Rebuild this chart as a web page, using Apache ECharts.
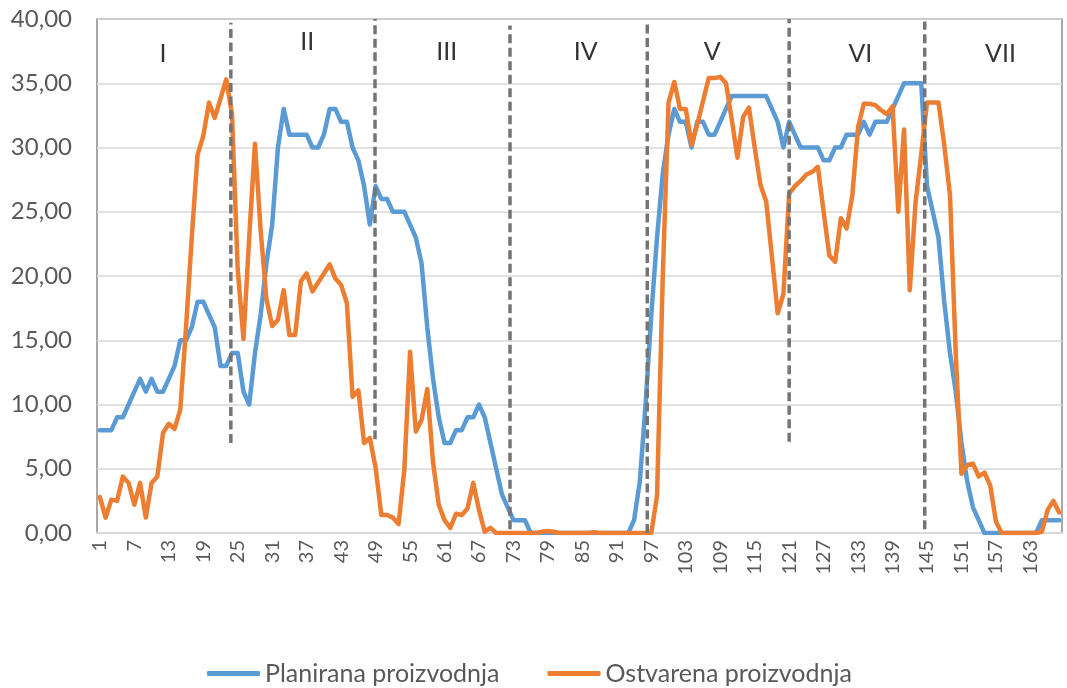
<!DOCTYPE html>
<html>
<head>
<meta charset="utf-8">
<script src="https://cdn.jsdelivr.net/npm/echarts@6/dist/echarts.min.js"></script>
<style>
  html, body { margin: 0; padding: 0; background: #ffffff; }
  #chart { width: 1067px; height: 688px; }
</style>
</head>
<body>
<div id="chart"></div>
<script>
// Hours of the week, 1..168
const hours = Array.from({ length: 168 }, (_, i) => String(i + 1));

// Planned production per hour
const planirana = [
  8, 8, 8, 9, 9, 10, 11, 12, 11, 12,
  11, 11, 12, 13, 15, 15, 16, 18, 18, 17,
  16, 13, 13, 14, 14, 11, 10, 14, 17, 21,
  24, 30, 33, 31, 31, 31, 31, 30, 30, 31,
  33, 33, 32, 32, 30, 29, 27, 24, 27, 26,
  26, 25, 25, 25, 24, 23, 21, 16, 12, 9,
  7, 7, 8, 8, 9, 9, 10, 9, 7, 5,
  3, 2, 1, 1, 1, 0, 0, 0, 0, 0,
  0, 0, 0, 0, 0, 0, 0, 0, 0, 0,
  0, 0, 0, 1, 4, 10, 17, 23, 28, 31,
  33, 32, 32, 30, 32, 32, 31, 31, 32, 33,
  34, 34, 34, 34, 34, 34, 34, 33, 32, 30,
  32, 31, 30, 30, 30, 30, 29, 29, 30, 30,
  31, 31, 31, 32, 31, 32, 32, 32, 33, 34,
  35, 35, 35, 35, 27, 25, 23, 18, 14, 11,
  7, 4, 2, 1, 0, 0, 0, 0, 0, 0,
  0, 0, 0, 0, 1, 1, 1, 1
];

// Realised production per hour
const ostvarena = [
  2.8, 1.2, 2.6, 2.5, 4.4, 3.9, 2.2, 3.9, 1.2, 3.9,
  4.4, 7.8, 8.5, 8.1, 9.6, 16.0, 23.0, 29.4, 30.9, 33.5,
  32.3, 33.8, 35.3, 32.6, 20.5, 15.1, 23.0, 30.3, 23.5, 18.2,
  16.1, 16.6, 18.9, 15.4, 15.4, 19.6, 20.2, 18.8, 19.5, 20.2,
  20.9, 19.8, 19.3, 17.9, 10.6, 11.1, 7.0, 7.4, 5.1, 1.4,
  1.4, 1.2, 0.7, 4.9, 14.1, 7.9, 8.8, 11.2, 5.5, 2.2,
  1.0, 0.4, 1.5, 1.4, 1.9, 3.9, 1.8, 0.1, 0.4, 0.0,
  0, 0, 0, 0, 0, 0, 0, 0.1, 0.15, 0.1,
  0, 0, 0, 0, 0, 0, 0.05, 0, 0, 0,
  0, 0, 0, 0, 0, 0, 0, 2.9, 20.0, 33.5,
  35.1, 33.0, 33.0, 30.2, 31.8, 33.6, 35.4, 35.4, 35.5, 35.0,
  32.2, 29.2, 32.4, 33.1, 30.0, 27.1, 25.8, 21.5, 17.1, 18.6,
  26.4, 27.0, 27.4, 27.9, 28.1, 28.5, 25.0, 21.6, 21.1, 24.5,
  23.7, 26.3, 31.6, 33.4, 33.4, 33.3, 32.9, 32.6, 33.2, 25.0,
  31.4, 18.9, 25.7, 29.5, 33.5, 33.5, 33.5, 30.2, 26.3, 14.0,
  4.6, 5.3, 5.4, 4.4, 4.7, 3.7, 0.9, 0, 0, 0,
  0, 0, 0, 0, 0.1, 1.8, 2.5, 1.6
];

// Day sections: names and where their captions sit (hour, value)
const sectionNames = ['I', 'II', 'III', 'IV', 'V', 'VI', 'VII'];
const sectionX = [12.0, 37.1, 61.4, 85.6, 107.6, 133.4, 157.8];
const sectionY = [37.3, 38.2, 37.4, 37.4, 37.4, 37.3, 37.3];

// Dashed day dividers: hour position and vertical extent
const dividerX = [23.8, 48.9, 72.4, 96.3, 121.0, 144.6];
const dividerFrom = [7.0, 7.3, 0.3, 0.0, 7.1, 0.3];
const dividerTo = [39.7, 40.0, 39.5, 39.9, 40.0, 39.8];

const FONT = 'Lato, "Open Sans", sans-serif';
const TEXT_GREY = '#595959';

const dividerSeries = dividerX.map((x, i) => ({
  type: 'line',
  xAxisIndex: 1,
  yAxisIndex: 0,
  data: [[x, dividerFrom[i]], [x, dividerTo[i]]],
  symbol: 'none',
  silent: true,
  z: 5,
  lineStyle: { color: '#747474', width: 3.5, type: [9, 4.5] }
}));

const option = {
  animation: false,
  backgroundColor: '#ffffff',
  grid: {
    left: 97, right: 5, top: 19, bottom: 155,
    show: true, borderColor: '#8c8c8c', borderWidth: 1.5
  },
  legend: {
    data: ['Planirana proizvodnja', 'Ostvarena proizvodnja'],
    left: 202, top: 656,
    icon: 'roundRect', itemWidth: 53, itemHeight: 5, itemGap: 48,
    textStyle: { fontFamily: FONT, fontSize: 25, color: TEXT_GREY }
  },
  xAxis: [
    {
      type: 'category',
      data: hours,
      boundaryGap: true,
      axisTick: { show: false },
      axisLine: { show: true, lineStyle: { color: '#d9d9d9', width: 2 } },
      axisLabel: {
        interval: 5, rotate: 90, margin: 7,
        fontFamily: FONT, fontSize: 20, color: TEXT_GREY
      },
      splitLine: { show: false }
    },
    {
      type: 'value', min: 0.5, max: 168.5, show: false,
      splitLine: { show: false }
    }
  ],
  yAxis: {
    type: 'value', min: 0, max: 40, interval: 5,
    axisLine: { show: false },
    axisTick: { show: false },
    splitLine: { lineStyle: { color: '#d9d9d9', width: 1.5 } },
    axisLabel: {
      margin: 25, fontFamily: FONT, fontSize: 24, color: TEXT_GREY,
      formatter: v => v.toFixed(2).replace('.', ',')
    }
  },
  series: [
    {
      name: 'Planirana proizvodnja',
      type: 'line',
      data: planirana,
      symbol: 'none',
      itemStyle: { color: '#5b9bd5' },
      lineStyle: { color: '#5b9bd5', width: 4.5, join: 'round', cap: 'round' },
      z: 3
    },
    {
      name: 'Ostvarena proizvodnja',
      type: 'line',
      data: ostvarena,
      symbol: 'none',
      itemStyle: { color: '#ed7d31' },
      lineStyle: { color: '#ed7d31', width: 4.5, join: 'round', cap: 'round' },
      z: 4
    },
    ...dividerSeries,
    {
      type: 'scatter',
      xAxisIndex: 1,
      yAxisIndex: 0,
      silent: true,
      symbolSize: 1,
      itemStyle: { color: 'rgba(0,0,0,0)' },
      data: sectionNames.map((n, i) => ({ name: n, value: [sectionX[i], sectionY[i]] })),
      label: {
        show: true, position: 'inside', formatter: p => p.name,
        fontFamily: FONT, fontSize: 25, color: '#000000'
      },
      z: 6
    }
  ]
};

const chart = echarts.init(document.getElementById('chart'), null, { renderer: 'canvas' });
chart.setOption(option);
</script>
</body>
</html>
